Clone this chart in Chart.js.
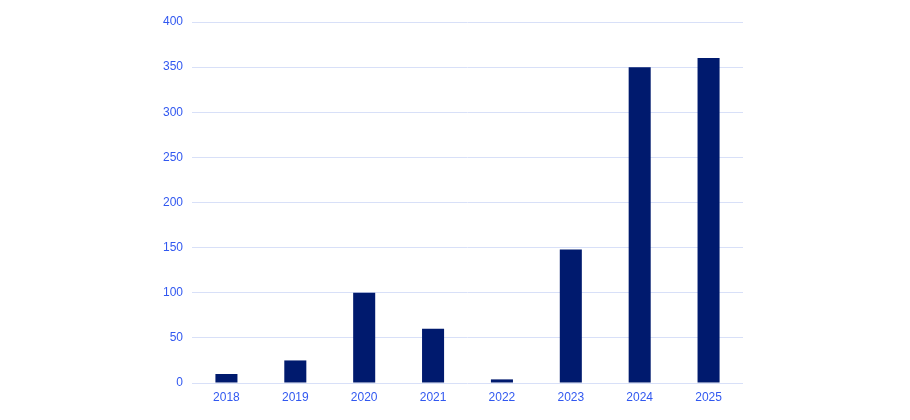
<!DOCTYPE html>
<html>
<head>
<meta charset="utf-8">
<script src="https://cdn.jsdelivr.net/npm/chart.js@4"></script>
<style>
html,body{margin:0;padding:0;background:#fff;}
#wrap{width:910px;height:420px;position:relative;}
</style>
</head>
<body>
<div id="wrap"><canvas id="c"></canvas></div>
<script>
const categories = ["2018","2019","2020","2021","2022","2023","2024","2025"];
const values = [10, 25, 100, 60, 4, 148, 350, 360];
const yTicks = [0, 50, 100, 150, 200, 250, 300, 350, 400];

const labelColor = "#3158f0";
const gridColor = "#d8e0f8";
const barColor = "#001a6e";

new Chart(document.getElementById("c"), {
  type: "bar",
  data: {
    labels: categories,
    datasets: [{
      data: values,
      backgroundColor: barColor,
      borderWidth: 0,
      barPercentage: 0.64,
      categoryPercentage: 0.5
    }]
  },
  options: {
    responsive: true,
    maintainAspectRatio: false,
    animation: false,
    layout: { padding: { top: 22, right: 167, left: 0, bottom: 0 } },
    plugins: { legend: { display: false }, tooltip: { enabled: false } },
    scales: {
      x: {
        grid: { display: false, drawTicks: false },
        border: { display: false },
        ticks: { color: labelColor, font: { family: "Liberation Sans, Arial", size: 12 }, padding: 7 },
        afterFit: s => { s.height = 37; }
      },
      y: {
        min: 0, max: 400,
        afterBuildTicks: s => { s.ticks = yTicks.map(v => ({ value: v })); },
        grid: { color: gridColor, lineWidth: 1, drawTicks: false },
        border: { display: false },
        ticks: { color: labelColor, font: { family: "Liberation Sans, Arial", size: 12 }, padding: 9 },
        afterFit: s => { s.width = 192; }
      }
    }
  }
});
</script>
</body>
</html>
